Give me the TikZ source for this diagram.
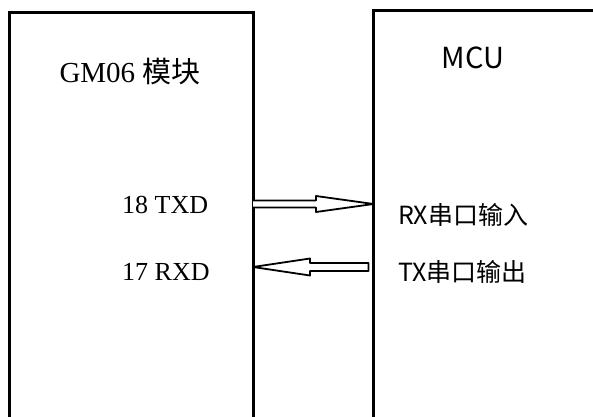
\documentclass[tikz,border=0pt]{standalone}
\usepackage{fontspec}
\setmainfont{Liberation Serif}
\newfontfamily\cjk{Noto Sans CJK SC}
\usetikzlibrary{positioning,calc}

\begin{document}
\begin{tikzpicture}[
    x=1pt, y=1pt,
    box/.style={draw, line width=3pt, outer sep=0pt, anchor=north west, minimum height=430pt},
    pinlabel/.style={anchor=base west, inner sep=0pt, font=\fontsize{26}{30}\selectfont},
    portlabel/.style={anchor=west, inner sep=0pt, font=\cjk\fontsize{25}{30}\selectfont},
    hollowarrow/.style={draw, line width=1.8pt, line join=round, fill=white}
]
    \useasboundingbox (0,0) rectangle (593,416);
    \clip (0,0) rectangle (593,416);

    % Modules
    \node[box, minimum width=243.5pt] (gm) at (9.5,403) {};
    \node[box, minimum width=250pt] (mcu) at (373.5,405) {};
    \node[font=\fontsize{29}{34}\selectfont] (gmtitle) at (130,344) {GM06 {\cjk 模块}};
    \node[font=\cjk\fontsize{29}{34}\selectfont] (mcutitle) at (473,358) {MCU};

    % Pins
    \node[pinlabel] (txd) at (122,203) {18 TXD};
    \node[pinlabel] (rxd) at (122,136) {17 RXD};
    \node[portlabel] (rxin) at (398,201) {RX串口输入};
    \node[portlabel] (txout) at (398,144) {TX串口输出};

    % Signals
    \coordinate (a1) at (gm.east |- 0,212);
    \coordinate (b1) at (mcu.west |- 0,212);
    \coordinate (a2) at (gm.east |- 0,149);
    \coordinate (b2) at ($(mcu.west |- 0,149)+(-5,0)$);

    \draw[hollowarrow] ($(a1)+(0,3.5)$) -- ($(a1)+(63,3.5)$) -- ($(a1)+(63,8)$) -- (b1)
        -- ($(a1)+(63,-8)$) -- ($(a1)+(63,-3.5)$) -- ($(a1)+(0,-3.5)$);
    \draw[hollowarrow] (a2) -- ($(a2)+(57,8.5)$) -- ($(a2)+(57,4)$) -- ($(b2)+(0,4)$)
        -- ($(b2)+(0,-4)$) -- ($(a2)+(57,-4)$) -- ($(a2)+(57,-8.5)$) -- cycle;
\end{tikzpicture}
\end{document}
